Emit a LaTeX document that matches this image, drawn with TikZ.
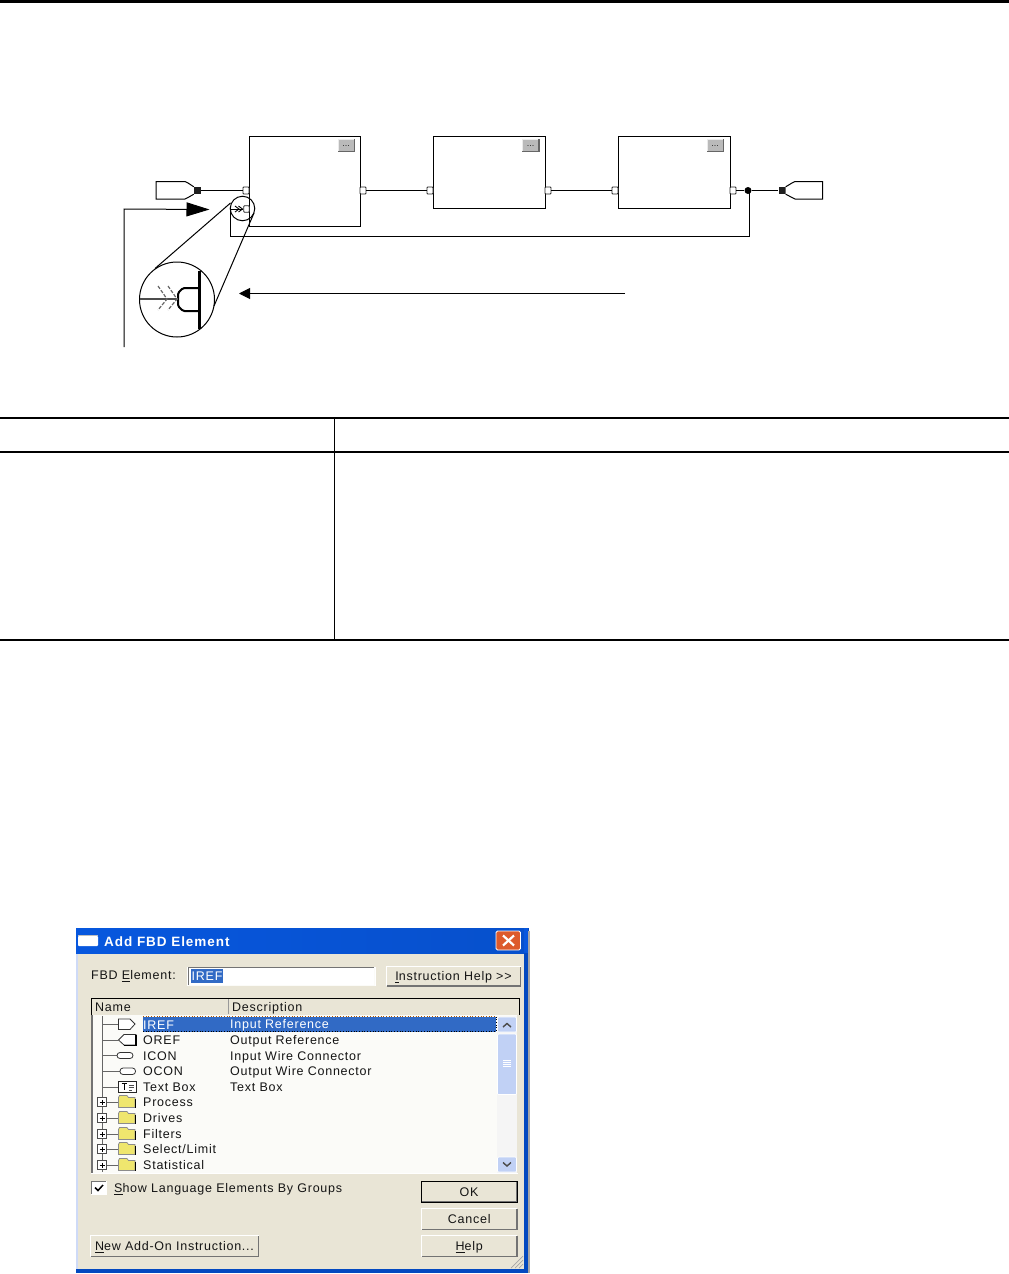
\documentclass[tikz,border=0pt]{standalone}
\usepackage{fontspec}
\setmainfont{Liberation Sans}
\newfontfamily\uifont[LetterSpace=6]{Liberation Sans}
\newfontfamily\uibold[LetterSpace=7]{Liberation Sans Bold}
\usetikzlibrary{arrows.meta}
\definecolor{xpbeige}{HTML}{E9E5D6}
\definecolor{xpblue}{HTML}{0757DE}
\definecolor{xpdeep}{HTML}{0349C0}
\definecolor{xpsel}{HTML}{316AC5}
\definecolor{xpscroll}{HTML}{C1D1F5}
\definecolor{xplist}{HTML}{FBFBF8}
\definecolor{xpclose}{HTML}{DD5A2C}
\definecolor{folder}{HTML}{EFE66E}
\definecolor{uitext}{HTML}{151515}
\tikzset{
  wire/.style={draw=black,line width=1pt},
  blockbox/.style={draw=black,line width=1pt,fill=white},
  pinbox/.style={draw=black!85,line width=.9pt,fill=white,rounded corners=.8pt},
  refshape/.style={draw=black,line width=1pt,fill=white},
  endsq/.style={fill=black!88},
  rule/.style={draw=black,line width=1.3pt},
  lens/.style={draw=black,line width=1pt},
  uilabel/.style={anchor=west,inner sep=0pt,text=uitext,text height=9pt,text depth=0pt,font=\uifont\fontsize{12.5}{14}\selectfont},
  seltext/.style={uilabel,text=white},
  treeline/.style={draw=black!60,line width=.8pt},
  iconline/.style={draw=black!80,line width=.8pt},
  folderbox/.style={draw=black!45,line width=.7pt,fill=folder},
}
\newcommand{\ulc}[1]{\underline{#1}}
% name, x1,y1,x2,y2, text
\newcommand{\uibtn}[6]{%
  \fill[xpbeige] (#2,#3) rectangle (#4,#5);
  \draw[white,line width=1pt] (#2+.5,#5-.5) -- (#2+.5,#3+.5) -- (#4-.5,#3+.5);
  \draw[black!55,line width=1.4pt] (#2+.5,#5-.7) -- (#4-.7,#5-.7) -- (#4-.7,#3+.5);
  \node[uilabel,anchor=center] (#1) at ({(#2+#4)/2},{(#3+#5)/2}) {#6};
}
% folder row
\newcommand{\folderrow}[3]{%
  \draw[treeline] (107,#2) -- (118,#2);
  \draw[black!70,line width=.7pt,fill=white] (97.5,#2-4.5) rectangle (106.5,#2+4.5);
  \draw[black,line width=.8pt] (99.5,#2) -- (104.5,#2) (102,#2-2.5) -- (102,#2+2.5);
  \draw[folderbox] (118.5,#2-4.5) -- (119.5,#2-6.5) -- (127,#2-6.5) -- (128.5,#2-4.5) -- (135,#2-4.5) -- (135,#2+5.5) -- (118.5,#2+5.5) -- cycle;
  \draw[black,line width=1.2pt] (135.7,#2-3.5) -- (135.7,#2+5.5);
  \node[uilabel] (#1) at (143,#2) {#3};
}
\begin{document}
\begin{tikzpicture}[x=1pt,y=-1pt]
\useasboundingbox (0,0) rectangle (1009,1274);
\fill[white] (0,0) rectangle (1009,1274);
\fill[black] (0,0) rectangle (1009,3.2);

% ---------- function block diagram ----------
\draw[blockbox] (249,136) rectangle (360,226);
\draw[blockbox] (433,136) rectangle (545,208);
\draw[blockbox] (618,136) rectangle (730,208);
\foreach \bx in {337.5,522,706.5}{
  \fill[black!60] (\bx,139) rectangle (\bx+17.5,152);
  \fill[black!27] (\bx,139) rectangle (\bx+16,150.5);
  \fill[black!8] (\bx,139) rectangle (\bx+.8,150.5);
  \fill[black!8] (\bx,139) rectangle (\bx+16,139.8);
  \node[inner sep=0pt,font=\fontsize{9}{9}\selectfont,text=black!85] at (\bx+8.7,146) {...};
}
\node[pinbox,minimum width=6pt,minimum height=7pt,inner sep=0pt] (inA) at (246,190.5) {};
\node[pinbox,minimum width=6pt,minimum height=7pt,inner sep=0pt] (outA) at (363,190.5) {};
\node[pinbox,minimum width=6pt,minimum height=7pt,inner sep=0pt] (inB) at (430,190.5) {};
\node[pinbox,minimum width=6pt,minimum height=7pt,inner sep=0pt] (outB) at (548,190.5) {};
\node[pinbox,minimum width=6pt,minimum height=7pt,inner sep=0pt] (inC) at (615,190.5) {};
\node[pinbox,minimum width=6pt,minimum height=7pt,inner sep=0pt] (outC) at (733,190.5) {};
\node[pinbox,minimum width=5.5pt,minimum height=6.5pt,inner sep=0pt] (inFb) at (246.5,209) {};
\node[endsq,minimum size=7pt,inner sep=0pt] (sqL) at (197.5,190.5) {};
\node[endsq,minimum size=7pt,inner sep=0pt] (sqR) at (782,190.5) {};
\draw[refshape] (sqL.north west) -- (188,183) -- (185,181.5) -- (156,181.5) -- (156,199) -- (185,199) -- (188,197.5) -- (sqL.south west);
\draw[refshape] (sqR.north east) -- (792,183) -- (795,181.5) -- (822.5,181.5) -- (822.5,199) -- (795,199) -- (792,197.5) -- (sqR.south east);
\node[fill=black,circle,minimum size=7pt,inner sep=0pt] (junc) at (748,190.5) {};
\coordinate (loopA) at (749,236);
\coordinate (loopB) at (230.5,236);
\coordinate (loopC) at (230.5,209);
\draw[wire] (sqL) -- (inA);
\draw[wire] (outA) -- (inB);
\draw[wire] (outB) -- (inC);
\draw[wire] (outC) -- (junc);
\draw[wire] (junc) -- (sqR);
\draw[wire] (749,190.5) -- (loopA) -- (loopB) -- (loopC) -- (inFb);
% small chevrons on feedback wire
\draw[black,line width=.9pt] (235,206) -- (239,209) -- (235,212) (238.5,206) -- (242.5,209) -- (238.5,212);

% magnifier
\node[lens,circle,minimum size=24.5pt,inner sep=0pt] (lensS) at (242.5,208.5) {};
\node[lens,circle,minimum size=75pt,inner sep=0pt,fill=white] (lensB) at (177,299.5) {};
\coordinate (tanA) at (230.5,203);
\coordinate (tanB) at (155,268.5);
\coordinate (tanC) at (254,213);
\coordinate (tanD) at (214,306);
\draw[lens] (tanA) -- (tanB);
\draw[lens] (tanC) -- (tanD);
\draw[black,line width=2.6pt] (199.3,271) -- (199.3,329);
\draw[black,line width=2pt,rounded corners=1.5pt] (199,288) -- (183,288) -- (178,293) -- (178,306) -- (183,311) -- (199,311);
\coordinate (zoomL) at (140,299);
\coordinate (zoomR) at (178,299);
\draw[black!70,line width=1.3pt] (zoomL) -- (zoomR);
\draw[black!60,line width=1.2pt,dash pattern=on 3.5pt off 1.5pt] (158,286) -- (167,299) -- (158,310) (168,286) -- (177,299) -- (168,310);

% callout arrows
\coordinate (callA) at (124,347);
\coordinate (callB) at (124,209);
\coordinate (callT) at (209.5,209.5);
\draw[wire,-{Triangle[length=23pt,width=14pt]}] (callA) -- (callB) -- (callT);
\coordinate (callC) at (625,293.5);
\coordinate (callD) at (239,293.5);
\draw[wire,-{Triangle[length=11pt,width=11pt]}] (callC) -- (callD);

% ---------- table rules ----------
\coordinate (ruleAl) at (0,418); \coordinate (ruleAr) at (1009,418);
\coordinate (ruleBl) at (0,452); \coordinate (ruleBr) at (1009,452);
\coordinate (ruleCl) at (0,640); \coordinate (ruleCr) at (1009,640);
\coordinate (ruleVt) at (334,418); \coordinate (ruleVb) at (334,640);
\draw[rule] (ruleAl) -- (ruleAr);
\draw[rule] (ruleBl) -- (ruleBr);
\draw[rule] (ruleCl) -- (ruleCr);
\draw[black,line width=1pt] (ruleVt) -- (ruleVb);

% ---------- dialog ----------
\fill[xpdeep] (76,928) rectangle (529,1273);
\fill[black!35] (528,931) rectangle (529.8,1273);
\fill[xpscroll!80!white] (76,953) rectangle (77.5,1269);
\fill[xpbeige] (77.5,953) rectangle (524,1269);
\shade[left color=xpblue,right color=xpblue!92!black] (76,928) rectangle (524,953);
\fill[xpblue] (524,928) rectangle (528,953);
% title
\fill[white] (78,936) [rounded corners=.8pt] rectangle (98,946);
\fill[black!25] (78,935) rectangle (98,936.2);
\node[uilabel,text=white,font=\uibold\fontsize{13.5}{15}\selectfont] (title) at (104,941.5) {Add FBD Element};
\draw[white,line width=.8pt,fill=xpclose,rounded corners=1.5pt] (496,931) rectangle (520.5,950);
\draw[white,line width=2.2pt] (503,935.5) -- (514,945.5) (514,935.5) -- (503,945.5);

% element field
\node[uilabel] (fbdlab) at (91,975) {FBD \ulc{E}lement:};
\fill[white] (187,967) rectangle (375.5,985.5);
\draw[black!55,line width=1pt] (188,985) -- (188,967.5) -- (374,967.5);
\draw[xplist,line width=1pt] (374.5,968) -- (374.5,985) -- (188,985);
\fill[xpsel] (191,969) rectangle (222.5,982.5);
\node[seltext] (fbdval) at (191.5,975.7) {IREF};
\uibtn{btnHelpA}{386}{966}{521}{986.5}{\ulc{I}nstruction Help >>}

% header
\draw[black,line width=1pt,fill=xpbeige] (91.5,1015) -- (91.5,998) -- (519.8,998) -- (519.8,1015);
\draw[black!40,line width=.8pt] (228,999) -- (228,1014);
\node[uilabel] (hName) at (95,1007) {Name};
\node[uilabel] (hDesc) at (232,1007) {Description};

% list
\fill[xplist] (92,1015) rectangle (517,1173.5);
\fill[black!55] (91,1015) rectangle (92.5,1173);
\fill[white] (91,1173) rectangle (518,1174.2);
\fill[xpsel] (143,1016.5) rectangle (496,1031.5);
\draw[black,line width=.7pt,dotted] (143,1031.3) -- (496,1031.3) -- (496,1016.5);
\draw[orange!70!black,line width=.7pt,dotted] (143,1016.7) -- (496,1016.7);
\draw[treeline] (102,1016) -- (102,1172);

% scrollbar
\fill[black!4] (497,1016) rectangle (517,1172.5);
\foreach \ya/\yb in {1017/1032,1034/1094.5,1157/1172}{
  \draw[white,line width=.7pt,fill=xpscroll,rounded corners=1pt] (497.5,\ya) rectangle (516.5,\yb);
}
\draw[black!70,line width=1.4pt] (503,1027) -- (507,1023.5) -- (511,1027);
\draw[black!70,line width=1.4pt] (503,1162.5) -- (507,1166) -- (511,1162.5);
\foreach \yy in {1060.5,1062.5,1064.5,1066.5}{\draw[white,line width=.7pt] (503,\yy) -- (511,\yy);}

% rows with icons
\draw[treeline] (102,1024.5) -- (118,1024.5);
\draw[iconline,fill=white] (118.5,1019) -- (130,1019) -- (135,1024) -- (130,1029.5) -- (118.5,1029.5) -- cycle;
\node[seltext] (rIref) at (143,1024.5) {IREF};
\node[seltext] (dIref) at (230,1024) {Input Reference};

\draw[treeline] (102,1040) -- (118,1040);
\draw[iconline,fill=white] (136,1034.5) -- (124,1034.5) -- (118.5,1040) -- (124,1045) -- (136,1045) -- cycle;
\draw[black,line width=1.3pt] (136,1034.5) -- (136,1045.5) -- (124,1045.5);
\node[uilabel] (rOref) at (143,1040) {OREF};
\node[uilabel] (dOref) at (230,1040) {Output Reference};

\draw[treeline] (102,1055.5) -- (117,1055.5);
\draw[iconline,fill=white,rounded corners=3pt] (117,1052.5) rectangle (133,1058.5);
\node[uilabel] (rIcon) at (143,1055.5) {ICON};
\node[uilabel] (dIcon) at (230,1055.5) {Input Wire Connector};

\draw[treeline] (102,1071) -- (120,1071);
\draw[iconline,fill=white,rounded corners=3pt] (120,1068) rectangle (135.5,1074.5);
\node[uilabel] (rOcon) at (143,1071) {OCON};
\node[uilabel] (dOcon) at (230,1071) {Output Wire Connector};

\draw[treeline] (102,1087) -- (118,1087);
\draw[black!85,line width=1pt,fill=white] (118.5,1081) rectangle (136.5,1092.5);
\draw[black,line width=1.3pt] (121.5,1083.5) -- (127,1083.5) (124.2,1083.5) -- (124.2,1090);
\draw[black!70,line width=.8pt] (128.5,1085) -- (134,1085) (128.5,1087.5) -- (134,1087.5) (128.5,1090) -- (132,1090);
\node[uilabel] (rText) at (143,1087) {Text Box};
\node[uilabel] (dText) at (230,1087) {Text Box};

\folderrow{rProc}{1102}{Process}
\folderrow{rDriv}{1118}{Drives}
\folderrow{rFilt}{1134}{Filters}
\folderrow{rSele}{1149}{Select/Limit}
\folderrow{rStat}{1165}{Statistical}

% checkbox
\fill[white] (91,1181) rectangle (106.5,1194.5);
\draw[black!55,line width=1.2pt] (91.5,1194) -- (91.5,1181.5) -- (106,1181.5);
\draw[black,line width=1.5pt] (95,1187.5) -- (98,1190.5) -- (103,1185);
\node[uilabel] (chk) at (114,1188) {\ulc{S}how Language Elements By Groups};

% buttons
\uibtn{btnOk}{421}{1181}{517}{1202}{OK}
\draw[black,line width=1pt] (421.5,1181.5) rectangle (517.5,1202.5);
\uibtn{btnCancel}{421}{1208}{517.5}{1230}{Cancel}
\uibtn{btnHelpB}{421}{1235}{517.5}{1257}{\ulc{H}elp}
\uibtn{btnNew}{90}{1235}{259}{1257}{\ulc{N}ew Add-On Instruction...}
% resize grip
\draw[black!35,line width=.7pt] (511,1268) -- (523,1256) (515,1268) -- (523,1260) (519,1268) -- (523,1264);
\end{tikzpicture}
\end{document}
